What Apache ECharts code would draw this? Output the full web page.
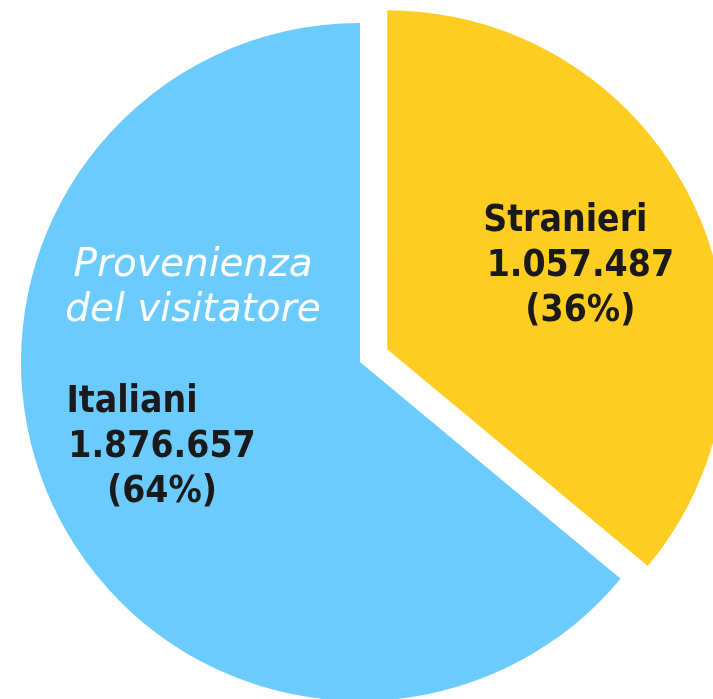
<!DOCTYPE html>
<html>
<head>
<meta charset="utf-8">
<script src="https://cdn.jsdelivr.net/npm/echarts@6/dist/echarts.min.js"></script>
<style>html,body{margin:0;padding:0;background:#fff;}#chart{width:713px;height:699px;}</style>
</head>
<body>
<div id="chart"></div>
<script>
var categories = ['Stranieri', 'Italiani'];
var values = [1057487, 1876657];
var percents = ['36%', '64%'];
var valueLabels = ['1.057.487', '1.876.657'];
var colors = ['#fdcd21', '#6ccbfd'];
var centerTitle = ['Provenienza', 'del visitatore'];

var chart = echarts.init(document.getElementById('chart'));
var labelOffsets = [[37, -10], [0, 0]];
var data = categories.map(function (c, i) {
  return {
    name: c,
    value: values[i],
    selected: i === 0,
    itemStyle: { color: colors[i] },
    label: { offset: labelOffsets[i] },
    select: { label: { offset: labelOffsets[i] } }
  };
});
var labelPos = [
  { x: 613, y: 256 },
  { x: 162, y: 447 }
];
var txt = { fontFamily: 'DejaVu Sans Condensed', fontWeight: 'bold', fontSize: 37, lineHeight: 45, color: '#1a1a1a' };
chart.setOption({
  animation: false,
  backgroundColor: '#ffffff',
  graphic: [{
    type: 'text',
    x: 193,
    y: 288,
    style: {
      text: centerTitle.join('\n'),
      fill: '#ffffff',
      font: 'italic 39px "DejaVu Sans"',
      lineHeight: 45,
      align: 'center',
      verticalAlign: 'middle'
    },
    z: 100
  }],
  series: [{
    type: 'pie',
    center: [360, 362],
    radius: [0, 339],
    startAngle: 90,
    clockwise: true,
    selectedMode: 'single',
    selectedOffset: 30,
    silent: true,
    avoidLabelOverlap: false,
    data: data,
    label: {
      show: true,
      position: 'inside',
      formatter: function (p) {
        return '{a' + p.dataIndex + '|' + p.name + '}\n{b|' + valueLabels[p.dataIndex] + '}\n{b|(' + percents[p.dataIndex] + ')}';
      },
      color: '#1a1a1a',
      fontFamily: txt.fontFamily,
      fontWeight: 'bold',
      fontSize: 37,
      lineHeight: 45,
      rich: {
        a0: Object.assign({ padding: [0, 30, 0, 0] }, txt),
        a1: Object.assign({ padding: [0, 60, 0, 0] }, txt),
        b: txt
      }
    },
    labelLine: { show: false },
    labelLayout: function (p) {
      if (p.dataIndex !== 1) return {};
      var lp = labelPos[p.dataIndex];
      return { x: lp.x, y: lp.y, align: 'center', verticalAlign: 'middle' };
    }
  }]
});
</script>
</body>
</html>
